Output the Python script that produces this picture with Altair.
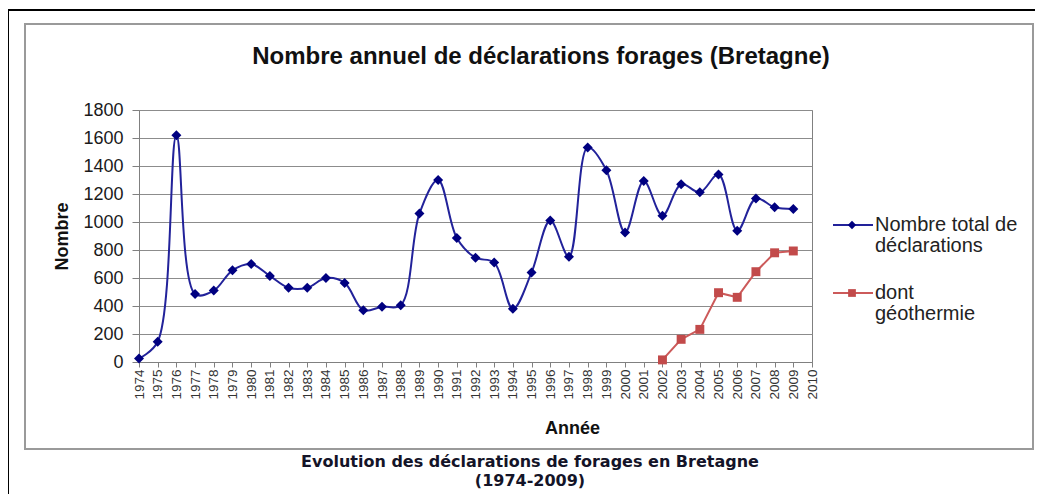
import altair as alt
import pandas as pd

years = list(range(1974, 2010))
total = [25, 145, 1620, 485, 510, 655, 700, 615, 530, 530, 600, 565, 370, 395, 405,
         1060, 1300, 886, 745, 710, 380, 640, 1010, 752, 1533, 1370, 925, 1293, 1045,
         1270, 1212, 1340, 938, 1168, 1105, 1093]
geo_years = [2002, 2003, 2004, 2005, 2006, 2007, 2008, 2009]
geo = [15, 162, 233, 495, 462, 645, 780, 793]

title_text = "Nombre annuel de déclarations forages (Bretagne)"
caption1 = "Evolution des déclarations de forages en Bretagne"
caption2 = "(1974-2009)"
legend1 = "Nombre total de\ndéclarations"
legend2 = "dont\ngéothermie"
tick_years = list(range(1974, 2011))
y_ticks = list(range(0, 1801, 200))

BLUE_LINE = "#22229a"
BLUE_MARK = "#000080"
RED_LINE = "#cc5a5a"
RED_MARK = "#c24a4a"
FONT = "Liberation Sans"

df_total = pd.DataFrame({"year": years, "value": total})
df_geo = pd.DataFrame({"year": geo_years, "value": geo})
one = pd.DataFrame({"a": [0]})

W, H = 673, 252

xscale = alt.Scale(domain=[1974, 2010], nice=False, zero=False)
yscale = alt.Scale(domain=[0, 1800], nice=False)

xaxis = alt.Axis(values=tick_years, format="d", labelAngle=270, labelFontSize=13.5,
                 labelFont=FONT, labelColor="#333333", grid=False, tickSize=5,
                 tickColor="#808080", domainColor="#808080", labelPadding=2,
                 labelOverlap=False, labelFlush=False,
                 title="Année", titleFont=FONT, titleFontSize=18, titleFontWeight="bold",
                 titleX=433, titleY=66, titleBaseline="middle", titleAlign="center",
                 titleColor="#111111", labelBaseline="middle", labelAlign="right")
yaxis = alt.Axis(values=y_ticks, format="d", labelFontSize=18, labelFont=FONT,
                 labelColor="#1a1a1a", grid=True, gridColor="#8c8c8c", gridWidth=1,
                 labelOverlap=False, labelFlush=False,
                 tickSize=7, tickColor="#808080", domainColor="#808080", labelPadding=9,
                 title="Nombre", titleFont=FONT, titleFontSize=18, titleFontWeight="bold",
                 titleX=-77, titleY=126, titleColor="#111111", titleAngle=270,
                 titleAlign="center", titleBaseline="middle")

base_x = alt.X("year:Q", scale=xscale, axis=xaxis)
base_y = alt.Y("value:Q", scale=yscale, axis=yaxis)

line_total = alt.Chart(df_total).mark_line(interpolate="catmull-rom", color=BLUE_LINE,
                                           strokeWidth=2).encode(x=base_x, y=base_y)
pts_total = alt.Chart(df_total).mark_point(shape="diamond", filled=True, color=BLUE_MARK,
                                           size=100, opacity=1).encode(x=base_x, y=base_y)
line_geo = alt.Chart(df_geo).mark_line(color=RED_LINE, strokeWidth=2).encode(x=base_x, y=base_y)
pts_geo = alt.Chart(df_geo).mark_point(shape="square", filled=True, color=RED_MARK,
                                       size=80, opacity=1).encode(x=base_x, y=base_y)

# frames
outer = alt.Chart(one).mark_rect(filled=False, stroke="black", strokeWidth=2, clip=False).encode(
    x=alt.value(-131), x2=alt.value(930), y=alt.value(-100), y2=alt.value(420))
inner = alt.Chart(one).mark_rect(filled=False, stroke="#9a9a9a", strokeWidth=2, clip=False).encode(
    x=alt.value(-114), x2=alt.value(894), y=alt.value(-86), y2=alt.value(339))

title = alt.Chart(one).mark_text(text=title_text, font=FONT, fontSize=24, fontWeight="bold",
                                 color="#111111", align="center", baseline="middle").encode(
    x=alt.value(402), y=alt.value(-53))
cap = alt.Chart(one).mark_text(text=caption1 + "\n" + caption2, lineBreak="\n", font="DejaVu Sans",
                               fontSize=16, fontWeight="bold", color="#141428", align="center",
                               baseline="middle", lineHeight=19).encode(
    x=alt.value(391), y=alt.value(352))

# legend
def leg_entry(yv, label, lcolor, mcolor, shape, size):
    r = alt.Chart(one).mark_rule(color=lcolor, strokeWidth=2).encode(
        x=alt.value(694), x2=alt.value(734), y=alt.value(yv))
    p = alt.Chart(one).mark_point(shape=shape, filled=True, color=mcolor, size=size, opacity=1).encode(
        x=alt.value(713), y=alt.value(yv))
    t = alt.Chart(one).mark_text(text=label, lineBreak="\n", font=FONT, fontSize=20,
                                 color="#222222", align="left", baseline="middle",
                                 lineHeight=21).encode(x=alt.value(736), y=alt.value(yv))
    return [r, p, t]

legend_layers = leg_entry(115, legend1, BLUE_LINE, BLUE_MARK, "diamond", 70) + \
    leg_entry(183, legend2, RED_LINE, RED_MARK, "square", 60)

chart = alt.layer(outer, inner, line_total, line_geo, pts_total, pts_geo, title, cap,
                  *legend_layers).properties(
    width=W, height=H,
    autosize=alt.AutoSizeParams(type="none"),
    padding={"left": 131, "top": 102, "right": 223, "bottom": 132},
    background="white",
).configure_view(stroke="#808080", strokeWidth=1)

chart.save("out.html", embed_options={"renderer": "svg", "actions": False})
